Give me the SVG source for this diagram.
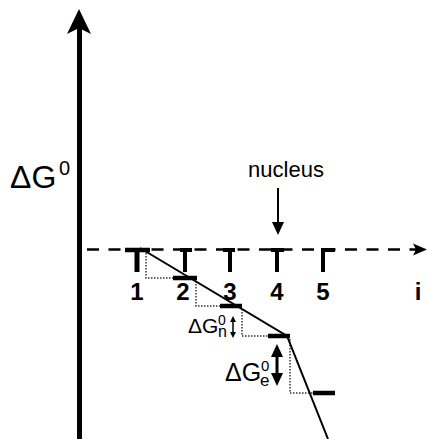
<svg xmlns="http://www.w3.org/2000/svg" width="428" height="439" viewBox="0 0 428 439">
<style>
text{font-family:"Liberation Sans",Arial,sans-serif;fill:#000}
.num{font-size:24px;font-weight:bold;text-anchor:middle}
.bar{stroke:#000;stroke-width:4.5}
.tick{stroke:#000;stroke-width:4}
.dot{fill:none;stroke:#333;stroke-width:1.5;stroke-dasharray:1.5 1.5}
</style>
<rect width="428" height="439" fill="#fff"/>
<g id="axes">
<line x1="79.5" y1="439" x2="79.5" y2="28" stroke="#000" stroke-width="5"/>
<path d="M79,9 L67,34 L79,28 L91,34 Z" fill="#000"/>
<line x1="87" y1="249.5" x2="416" y2="249.5" stroke="#000" stroke-width="2.5" stroke-dasharray="12 9.5"/>
<path d="M427,249.5 L413,243.5 L416,249.5 L413,255.5 Z" fill="#000"/>
<text x="10" y="188" font-size="32">ΔG<tspan x="59" y="175" font-size="20">0</tspan></text>
<text x="418" y="300" class="num">i</text>
</g>
<g id="ticks">
<line x1="125" y1="250" x2="150" y2="250" class="bar"/>
<line x1="137" y1="250" x2="137" y2="272" stroke="#000" stroke-width="5"/>
<line x1="180" y1="250" x2="192" y2="250" class="tick"/>
<line x1="185" y1="250" x2="185" y2="272" class="tick"/>
<line x1="223" y1="250" x2="235" y2="250" class="tick"/>
<line x1="230" y1="250" x2="230" y2="272" class="tick"/>
<line x1="271" y1="250" x2="284" y2="250" class="tick"/>
<line x1="277" y1="250" x2="277" y2="272" class="tick"/>
<line x1="323" y1="250" x2="335" y2="250" class="tick"/>
<line x1="323" y1="248" x2="323" y2="272" class="tick"/>
<text x="137" y="300" class="num">1</text>
<text x="183" y="300" class="num">2</text>
<text x="230" y="300" class="num">3</text>
<text x="277" y="300" class="num">4</text>
<text x="323" y="300" class="num">5</text>
</g>
<g id="nucleus">
<text x="286" y="177" font-size="22" text-anchor="middle">nucleus</text>
<line x1="278" y1="188" x2="278" y2="225" stroke="#000" stroke-width="2"/>
<path d="M278,235 L272,222 L284,222 Z" fill="#000"/>
</g>
<g id="steps">
<line x1="173" y1="278" x2="197" y2="278" class="bar"/>
<line x1="220" y1="306" x2="242" y2="306" class="bar"/>
<line x1="268" y1="336" x2="290" y2="336" class="bar"/>
<line x1="313" y1="393" x2="335" y2="393" class="bar"/>
<path d="M146,253 V278 H173" class="dot"/>
<path d="M196,281 V306 H220" class="dot"/>
<path d="M242,309 V336 H268" class="dot"/>
<path d="M290,339 V393 H313" class="dot"/>
</g>
<g id="connectors">
<path d="M140,248 L287,336 L328,439" fill="none" stroke="#000" stroke-width="2"/>
</g>
<g id="dGn">
<text x="188" y="333" font-size="21">ΔG<tspan x="218" y="325" font-size="14">0</tspan><tspan x="218" y="337" font-size="16">n</tspan></text>
<line x1="233" y1="321" x2="233" y2="333" stroke="#000" stroke-width="1.5"/>
<path d="M233,316 L230,322 L236,322 Z M233,338 L230,332 L236,332 Z" fill="#000"/>
</g>
<g id="dGe">
<text x="225" y="381" font-size="25">ΔG<tspan x="261" y="371" font-size="15">0</tspan><tspan x="260" y="386" font-size="17">e</tspan></text>
<line x1="277" y1="354" x2="277" y2="376" stroke="#000" stroke-width="3"/>
<path d="M277,344 L271,357 L283,357 Z M277,386 L271,373 L283,373 Z" fill="#000"/>
</g>
</svg>
